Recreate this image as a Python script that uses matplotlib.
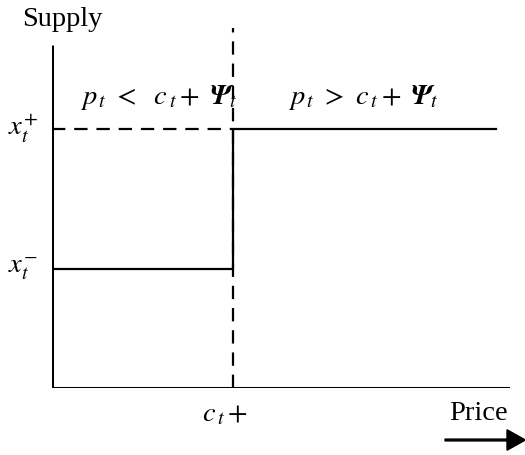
import matplotlib.pyplot as plt
from matplotlib.patches import FancyArrow

plt.rcParams['font.family'] = 'Liberation Serif'
plt.rcParams['mathtext.fontset'] = 'stix'

# Werte der Skizze (Preis / Angebot, willkuerliche Einheiten)
price_threshold = 3.95     # c_t + Psi_t
price_end = 9.7
supply_low = 3.3           # x_t^-
supply_high = 7.2          # x_t^+
axis_top = 9.53

fig = plt.figure(figsize=(5.25, 4.55), dpi=100)
ax = fig.add_axes([52 / 525, (455 - 388) / 455, 458 / 525, 360 / 455])
ax.set_xlim(0, 10)
ax.set_ylim(0, 10)
ax.axis('off')

lw = 1.6
# Achsen
ax.plot([0, 0], [0, axis_top], color='black', lw=2.2, solid_capstyle='butt')
ax.plot([0, 10], [0, 0], color='black', lw=2.2, solid_capstyle='butt')

# gestrichelte Linien
ax.plot([price_threshold, price_threshold], [0, 10], color='black', lw=lw,
        linestyle=(0, (6, 4)))
ax.plot([0, price_threshold], [supply_high, supply_high], color='black', lw=lw,
        linestyle=(0, (6, 4)))

# Angebotsfunktion
ax.plot([0, price_threshold, price_threshold, price_end],
        [supply_low, supply_low, supply_high, supply_high],
        color='black', lw=lw)

fs = 20.5
ax.text(0.61, 8.08, r'$p_{\,t}\ <\ \ c_{\,t} +\ \mathbfit{\Psi}_t$', fontsize=fs,
        ha='left', va='center')
ax.text(5.15, 8.08, r'$p_{\,t}\ >\ c_{\,t} +\ \mathbfit{\Psi}_t$', fontsize=fs,
        ha='left', va='center')
ax.text(-0.3, supply_high, r'$x_t^{\!+}$', fontsize=fs, ha='right', va='center')
ax.text(-0.3, supply_low, r'$x_t^{\!-}$', fontsize=fs, ha='right', va='center')
ax.text(3.78, -0.75, r'$c_{\,t} +$', fontsize=fs, ha='center', va='center')

fig.text(62 / 525, 1 - 20 / 455, 'Supply', fontsize=fs, ha='center', va='center')
fig.text(478 / 525, 1 - 413 / 455, 'Price', fontsize=fs, ha='center', va='center')
fig.patches.append(FancyArrow(
    445 / 525, 1 - 440 / 455, 62 / 525, 0, width=0.004, head_width=0.045,
    head_length=0.035, length_includes_head=False, color='black',
    transform=fig.transFigure, figure=fig))

plt.savefig('out.png')
